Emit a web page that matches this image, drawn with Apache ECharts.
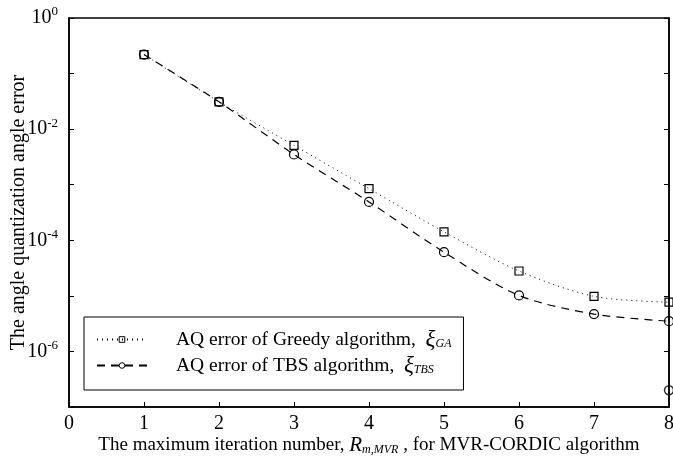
<!DOCTYPE html>
<html><head><meta charset="utf-8">
<script src="https://cdn.jsdelivr.net/npm/echarts@6/dist/echarts.min.js"></script>
<style>html,body{margin:0;padding:0;background:#fff}#c{width:673px;height:458px}</style>
</head><body><div id="c"></div>
<script>
const iterations = [1, 2, 3, 4, 5, 6, 7, 8];
const greedyError = [0.22, 0.031, 5.1e-3, 8.5e-4, 1.42e-4, 2.8e-5, 9.8e-6, 7.7e-6];
const tbsError = [0.22, 0.031, 3.5e-3, 4.9e-4, 6.1e-5, 1.02e-5, 4.7e-6, 3.5e-6];
const strayPoint = [[8, 2.0e-7]];
const xTicks = [0, 1, 2, 3, 4, 5, 6, 7, 8];
const yMinExp = -7, yMaxExp = 0;

const font = 'Liberation Serif';
const chart = echarts.init(document.getElementById('c'), null, {renderer: 'canvas'});
const pair = arr => iterations.map((x, i) => [x, arr[i]]);

chart.setOption({
  animation: false,
  backgroundColor: '#fff',
  textStyle: {fontFamily: font, color: '#000'},
  grid: {left: 69, right: 4, top: 18, bottom: 51, containLabel: false, outerBoundsMode: 'none',
         show: true, borderColor: '#000', borderWidth: 1.5, backgroundColor: 'transparent'},
  xAxis: [{
    type: 'value', min: xTicks[0], max: xTicks[xTicks.length - 1], interval: 1,
    position: 'bottom',
    axisLine: {lineStyle: {color: '#000', width: 1.5}},
    axisTick: {inside: true, length: 5, lineStyle: {color: '#000'}},
    splitLine: {show: false},
    axisLabel: {fontFamily: font, fontSize: 20, color: '#000', margin: 7},
    name: 'The maximum iteration number, {i|R}{sub|m,MVR} , for MVR-CORDIC algorithm',
    nameLocation: 'middle', nameGap: 28, nameMoveOverlap: false,
    nameTextStyle: {fontFamily: font, fontSize: 19, color: '#000',
      rich: {i: {fontFamily: font, fontStyle: 'italic', fontSize: 21, color: '#000'},
             sub: {fontFamily: font, fontStyle: 'italic', fontSize: 12, color: '#000', padding: [8, 0, 0, 0]}}}
  }],
  yAxis: [{
    type: 'log', logBase: 10, min: Math.pow(10, yMinExp), max: Math.pow(10, yMaxExp),
    splitNumber: 7,
    axisLine: {show: true, lineStyle: {color: '#000', width: 1.5}},
    axisTick: {inside: true, length: 5, lineStyle: {color: '#000'}},
    minorTick: {show: false},
    splitLine: {show: false},
    axisLabel: {
      margin: 11, fontFamily: font, fontSize: 20, color: '#000',
      formatter: v => {
        const e = Math.round(Math.log10(v));
        if (e % 2 !== 0) return '';
        return '{b|10}{s|' + e + '}';
      },
      rich: {b: {fontFamily: font, fontSize: 20, color: '#000'},
             s: {fontFamily: font, fontSize: 13, color: '#000', padding: [0, 0, 12, 0]}}
    },
    name: 'The angle quantization angle error',
    nameLocation: 'middle', nameGap: 40, nameMoveOverlap: false,
    nameTextStyle: {fontFamily: font, fontSize: 20, color: '#000'}
  }, {
    type: 'log', logBase: 10, min: Math.pow(10, yMinExp), max: Math.pow(10, yMaxExp),
    splitNumber: 7, position: 'right',
    axisLine: {show: true, lineStyle: {color: '#000', width: 1.5}},
    axisTick: {show: true, inside: true, length: 5, lineStyle: {color: '#000'}},
    axisLabel: {show: false}, splitLine: {show: false}, minorTick: {show: false}
  }],
  legend: {
    left: 84, top: 317, orient: 'vertical',
    borderColor: '#000', borderWidth: 1, padding: [11, 12, 13, 12],
    itemGap: 3, itemWidth: 50, itemHeight: 7,
    itemStyle: {borderWidth: 1},
    data: ['greedy', 'tbs'],
    formatter: n => n === 'greedy'
      ? '{gap|}AQ error of Greedy algorithm,  {xi|ξ}{sub|GA}'
      : '{gap|}AQ error of TBS algorithm,  {xi|ξ}{sub|TBS}',
    textStyle: {fontFamily: font, fontSize: 19.5, color: '#000',
      rich: {gap: {width: 24},
             xi: {fontFamily: font, fontSize: 23, fontStyle: 'italic', color: '#000'},
             sub: {fontFamily: font, fontSize: 12, fontStyle: 'italic', color: '#000', padding: [9, 0, 0, 0]}}}
  },
  series: [{
    name: 'greedy', type: 'line', data: pair(greedyError), smooth: 0.3,
    symbol: 'rect', symbolSize: 8,
    lineStyle: {color: '#000', width: 1, type: [1, 4]},
    itemStyle: {color: 'rgba(255,255,255,0)', borderColor: '#000', borderWidth: 1.2}
  }, {
    name: 'tbs', type: 'line', data: pair(tbsError), smooth: 0.3,
    symbol: 'circle', symbolSize: 9,
    lineStyle: {color: '#000', width: 1.2, type: [8, 6]},
    itemStyle: {color: 'rgba(255,255,255,0)', borderColor: '#000', borderWidth: 1.2}
  }, {
    name: 'stray', type: 'scatter', data: strayPoint, yAxisIndex: 1,
    symbol: 'circle', symbolSize: 9,
    itemStyle: {color: 'rgba(255,255,255,0)', borderColor: '#000', borderWidth: 1.5}
  }]
});
</script></body></html>
